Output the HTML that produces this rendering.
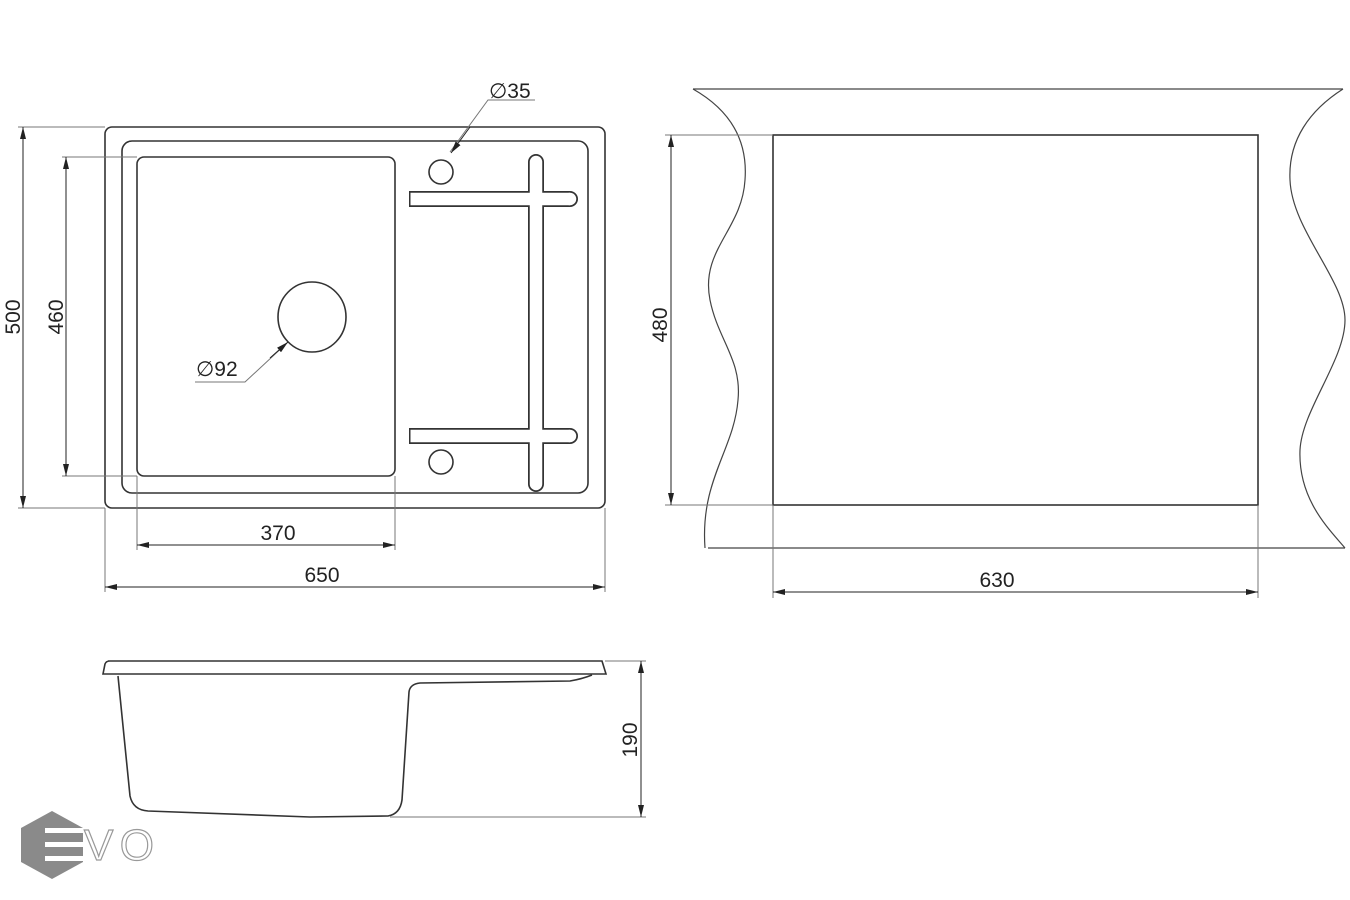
<!DOCTYPE html>
<html><head><meta charset="utf-8"><style>
html,body{margin:0;padding:0;background:#fff;}
svg{display:block;}
text{font-family:"Liberation Sans",sans-serif;fill:#222;}
</style></head><body>
<svg width="1350" height="900" viewBox="0 0 1350 900" xmlns="http://www.w3.org/2000/svg">
<defs>
<marker id="a" viewBox="0 0 12 6" refX="12" refY="3" markerWidth="12" markerHeight="6" orient="auto-start-reverse" markerUnits="userSpaceOnUse"><path d="M0,0 L12,3 L0,6 z" fill="#222"/></marker>
</defs>
<g fill="none" stroke="#333" stroke-width="1.6">
<rect x="105" y="127" width="500" height="381" rx="7"/>
<rect x="122" y="141" width="466" height="352" rx="10"/>
<rect x="137" y="157" width="258" height="319" rx="7"/>
<ellipse cx="312" cy="317" rx="34" ry="35"/>
<circle cx="441" cy="172" r="12"/>
<circle cx="441" cy="462" r="12"/>
</g>
<g stroke="#333">
<path d="M536,162 V484" stroke-width="16" stroke-linecap="round"/>
<path d="M409,199 H570 M409,436 H570" stroke-width="16"/>
<circle cx="570" cy="199" r="8" fill="#333" stroke="none"/>
<circle cx="570" cy="436" r="8" fill="#333" stroke="none"/>
</g>
<g stroke="#fff">
<path d="M536,162 V484" stroke-width="12.5" stroke-linecap="round"/>
<path d="M410.5,199 H570 M410.5,436 H570" stroke-width="12.5"/>
<circle cx="570" cy="199" r="6.25" fill="#fff" stroke="none"/>
<circle cx="570" cy="436" r="6.25" fill="#fff" stroke="none"/>
</g>
<g fill="none" stroke="#777" stroke-width="1">
<path d="M18,127 H105 M18,508 H105 M62,157 H137 M62,476 H137"/>
<path d="M137,476 V550 M395,476 V550 M105,508 V592 M605,508 V592"/>
<path d="M450,152 L488,100 H535 M287,343 L245,382 H195"/>
</g>
<g stroke="#222" stroke-width="1" fill="none">
<path d="M23,127 V508" marker-start="url(#a)" marker-end="url(#a)"/>
<path d="M66,157 V476" marker-start="url(#a)" marker-end="url(#a)"/>
<path d="M137,545 H395" marker-start="url(#a)" marker-end="url(#a)"/>
<path d="M105,587 H605" marker-start="url(#a)" marker-end="url(#a)"/>
<path d="M470,127 L451,153" marker-end="url(#a)"/>
<path d="M270,358 L288,342" marker-end="url(#a)"/>
</g>
<g font-size="21">
<text transform="translate(20,317) rotate(-90)" text-anchor="middle">500</text>
<text transform="translate(63,317) rotate(-90)" text-anchor="middle">460</text>
<text x="278" y="540" text-anchor="middle">370</text>
<text x="322" y="582" text-anchor="middle">650</text>
<text x="489" y="98">∅35</text>
<text x="196" y="376">∅92</text>
</g>
<g fill="none" stroke="#444" stroke-width="1.2">
<path d="M693,89 H1343"/>
<path d="M708,548 H1345"/>
<path d="M693,89 C730,110 748,140 745,180 C742,230 700,250 710,300 C718,340 742,360 738,400 C734,450 700,480 705,548"/>
<path d="M1343,89 C1310,110 1288,140 1290,180 C1292,230 1345,280 1345,320 C1345,360 1302,410 1300,450 C1298,500 1330,530 1345,548"/>
</g>
<rect x="773" y="135" width="485" height="370" fill="none" stroke="#333" stroke-width="1.6"/>
<g fill="none" stroke="#777" stroke-width="1">
<path d="M665,135 H773 M665,505 H773 M773,505 V598 M1258,505 V598"/>
</g>
<g stroke="#222" stroke-width="1" fill="none">
<path d="M671,135 V505" marker-start="url(#a)" marker-end="url(#a)"/>
<path d="M773,592 H1258" marker-start="url(#a)" marker-end="url(#a)"/>
</g>
<g font-size="21">
<text transform="translate(667,325) rotate(-90)" text-anchor="middle">480</text>
<text x="997" y="587" text-anchor="middle">630</text>
</g>
<g fill="none" stroke="#333" stroke-width="1.6">
<path d="M108,661 H602 L606,674 H103 L105,664 Q106,661 110,661"/>
<path d="M118,676 L130,796 Q133,810 148,811 L310,817 L388,816 Q400,814 402,800 L409,692 Q410,684 420,683 L570,681 Q582,679 592,675"/>
</g>
<g fill="none" stroke="#777" stroke-width="1">
<path d="M605,661 H646 M390,817 H646"/>
</g>
<path d="M641,661 V817" stroke="#222" stroke-width="1" marker-start="url(#a)" marker-end="url(#a)"/>
<text transform="translate(637,740) rotate(-90)" text-anchor="middle" font-size="21">190</text>
<polygon points="52,811 83,828 83,862 52,879 21,862 21,828" fill="#8a8a8a"/>
<g fill="#fff"><rect x="45" y="828" width="38" height="5"/><rect x="45" y="842" width="38" height="5"/><rect x="45" y="856" width="38" height="5"/></g>
<text x="84" y="860" font-size="44" textLength="70" style="fill:#fff;stroke:#999;stroke-width:1.2">VO</text>
</svg>
</body></html>
